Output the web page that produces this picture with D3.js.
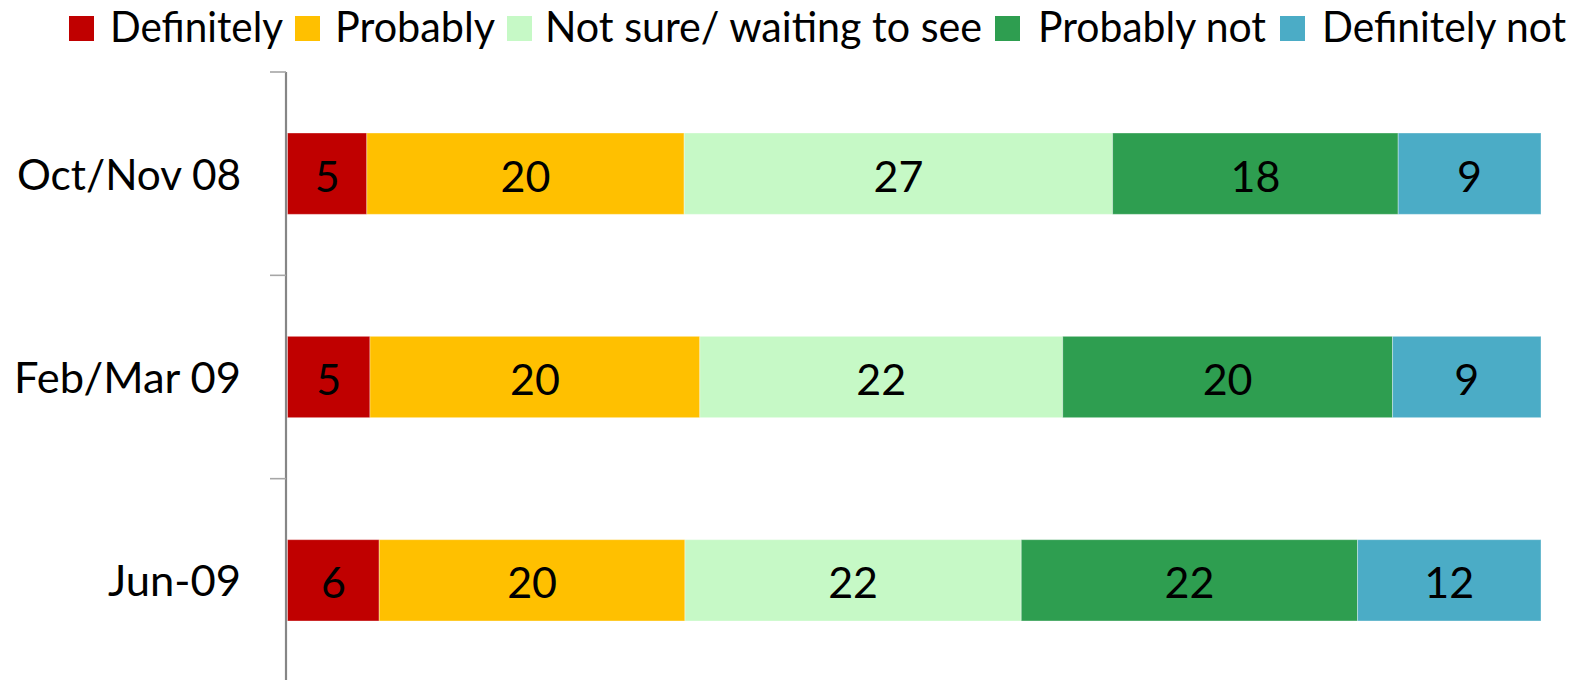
<!DOCTYPE html>
<html><head><meta charset="utf-8">
<script src="https://cdn.jsdelivr.net/npm/d3@7"></script>
<style>body{margin:0;background:#fff}svg{display:block}</style>
</head><body><svg id="c" width="1577" height="680"></svg>
<script>
const categories = ["Oct/Nov 08", "Feb/Mar 09", "Jun-09"];
const seriesNames = ["Definitely", "Probably", "Not sure/ waiting to see", "Probably not", "Definitely not"];
const definitely = [5, 5, 6];
const probably = [20, 20, 20];
const notSure = [27, 22, 22];
const probablyNot = [18, 20, 22];
const definitelyNot = [9, 9, 12];
const colors = ["#C00000", "#FFC000", "#C6F9C6", "#2E9E50", "#4BACC6"];

const seriesValues = [definitely, probably, notSure, probablyNot, definitelyNot];
const rows = categories.map((c, i) => {
  const r = {cat: c};
  seriesNames.forEach((s, j) => r[s] = seriesValues[j][i]);
  return r;
});

const FONT = "Lato, 'Open Sans', sans-serif";
const svg = d3.select("#c");
const x = d3.scaleLinear().domain([0, 1]).range([287.5, 1541]);
const y = d3.scaleBand().domain(categories).range([72, 682]).paddingInner(0.6).paddingOuter(0.3);
const yb = d3.scaleBand().domain(categories).range([72, 682]).padding(0);

const stack = d3.stack().keys(seriesNames).offset(d3.stackOffsetExpand);
const layers = stack(rows);
const color = d3.scaleOrdinal().domain(seriesNames).range(colors);

const g = svg.append("g");
layers.forEach(layer => {
  const lg = g.append("g");
  lg.selectAll("rect").data(layer).join("rect")
    .attr("x", d => x(d[0])).attr("width", d => x(d[1]) - x(d[0]))
    .attr("y", d => y(d.data.cat)).attr("height", y.bandwidth())
    .attr("fill", color(layer.key))
    .attr("stroke", "#fff").attr("stroke-opacity", 0.35).attr("stroke-width", 1);
  lg.selectAll("text").data(layer).join("text")
    .attr("x", d => (x(d[0]) + x(d[1])) / 2)
    .attr("y", d => y(d.data.cat) + y.bandwidth() / 2 + 18)
    .attr("text-anchor", "middle")
    .attr("font-family", FONT).attr("font-size", 43).attr("fill", "#000")
    .text(d => d.data[layer.key]);
});

// axis
const ax = svg.append("g");
ax.append("line").attr("x1", 286).attr("x2", 286).attr("y1", 72).attr("y2", 680)
  .attr("stroke", "#868686").attr("stroke-width", 2.2);
const bounds = categories.map(c => yb(c)).concat([yb.range()[1]]);
ax.selectAll(".tk").data(bounds).join("line").attr("class", "tk")
  .attr("x1", 270).attr("x2", 286).attr("y1", d => d).attr("y2", d => d)
  .attr("stroke", "#A6A6A6").attr("stroke-width", 1.6);
const catWidths = [224, 227, 133];
ax.selectAll(".cl").data(categories).join("text").attr("class", "cl")
  .attr("x", (d, i) => 241 - catWidths[i]).attr("y", d => y(d) + y.bandwidth() / 2 + 16)
  .attr("textLength", (d, i) => catWidths[i]).attr("lengthAdjust", "spacingAndGlyphs")
  .attr("font-family", FONT).attr("font-size", 43).attr("fill", "#000")
  .text(d => d);

// legend
const legX = [69, 295, 507, 995, 1280];
const legTx = [110, 335, 545, 1038, 1322];
const legW = [173, 160, 437, 228, 244];
const lg = svg.append("g");
seriesNames.forEach((s, i) => {
  lg.append("rect").attr("x", legX[i]).attr("y", 16).attr("width", 25).attr("height", 25)
    .attr("fill", colors[i]);
  lg.append("text").attr("x", legTx[i]).attr("y", 42)
    .attr("textLength", legW[i]).attr("lengthAdjust", "spacingAndGlyphs")
    .attr("font-family", FONT).attr("font-size", 42).attr("fill", "#000").text(s);
});
</script></body></html>
